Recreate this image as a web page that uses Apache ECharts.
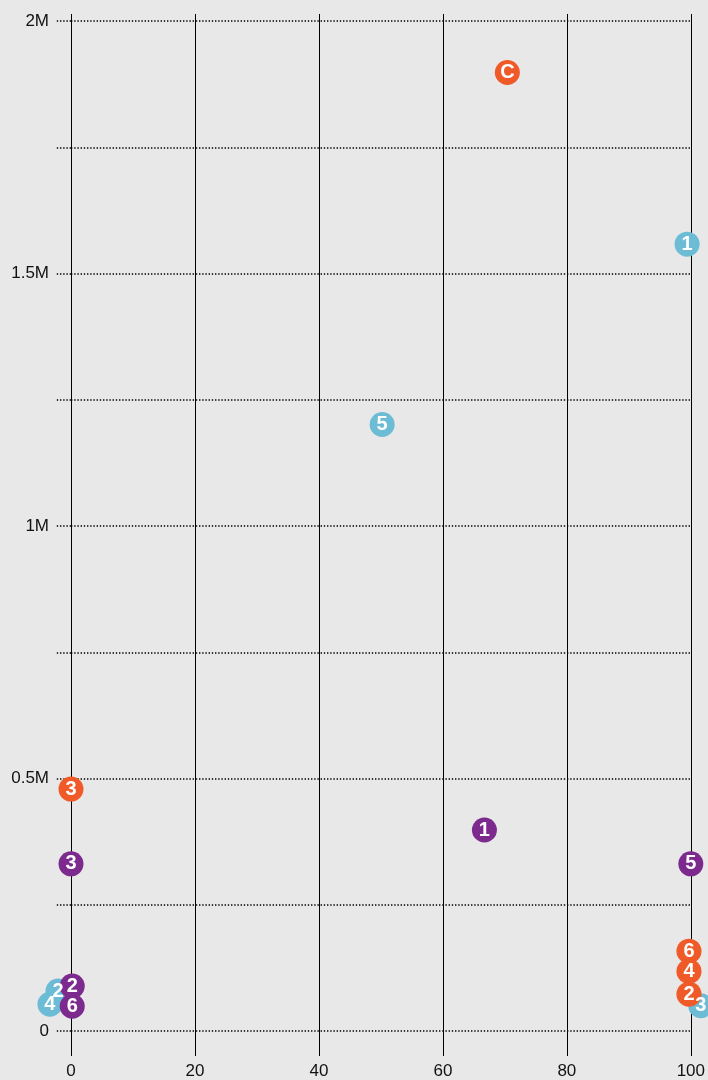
<!DOCTYPE html>
<html>
<head>
<meta charset="utf-8">
<script src="https://cdn.jsdelivr.net/npm/echarts@6/dist/echarts.min.js"></script>
<style>
html,body{margin:0;padding:0;background:#e8e8e8;}
#chart{width:708px;height:1080px;}
</style>
</head>
<body>
<div id="chart"></div>
<script>
// Data
var xTicks = [0, 20, 40, 60, 80, 100];
var yTickLabels = ['0', '0.5M', '1M', '1.5M', '2M'];

var blueX = [99.4, 50.2, 101.6, -3.4, -2.1];
var blueY = [1558000, 1201000, 50000, 53000, 79000];
var blueLabels = ['1', '5', '3', '4', '2'];

var orangeX = [70.4, 0, 99.7, 99.7, 99.7];
var orangeY = [1898000, 479000, 158000, 118000, 73000];
var orangeLabels = ['C', '3', '6', '4', '2'];

var purpleX = [66.7, 0, 100, 0.2, 0.2];
var purpleY = [398000, 331000, 331000, 89000, 49000];
var purpleLabels = ['1', '3', '5', '2', '6'];

function pts(xs, ys, ls) {
  return xs.map(function (x, i) { return { value: [x, ys[i]], lab: ls[i] }; });
}

var FONT = '"Liberation Sans", Arial, Helvetica, sans-serif';
var DOT = { color: '#000', width: 1.6, type: [1.4, 1.8] };

function scatter(name, color, data) {
  return {
    name: name,
    type: 'scatter',
    clip: false,
    symbol: 'circle',
    symbolSize: 25,
    itemStyle: { color: color, opacity: 1 },
    label: {
      show: true,
      position: 'inside',
      formatter: function (p) { return p.data.lab; },
      color: '#ffffff',
      fontFamily: FONT,
      fontWeight: 'bold',
      fontSize: 20
    },
    emphasis: { disabled: true },
    data: data
  };
}

var chart = echarts.init(document.getElementById('chart'));
chart.setOption({
  backgroundColor: '#e8e8e8',
  animation: false,
  grid: { left: 71, right: 16, top: 21, bottom: 45, containLabel: false },
  xAxis: [{
    type: 'value',
    min: 0, max: 100, interval: 20,
    position: 'bottom',
    axisLine: { show: false },
    axisTick: { show: true, length: 25, lineStyle: { color: '#000', width: 1 } },
    splitLine: { show: true, lineStyle: { color: '#000', width: 1, type: 'solid' } },
    axisLabel: { show: true, margin: 32, color: '#111', fontSize: 17, fontFamily: FONT,
      formatter: function (v) { return xTicks.indexOf(v) >= 0 ? String(v) : ''; } }
  }, {
    type: 'value',
    min: 0, max: 100, interval: 20,
    position: 'top',
    axisLine: { show: false },
    axisTick: { show: true, length: 7, lineStyle: { color: '#000', width: 1 } },
    splitLine: { show: false },
    axisLabel: { show: false }
  }],
  yAxis: {
    type: 'value',
    min: 0, max: 2000000, interval: 250000,
    axisLine: { show: false },
    axisTick: { show: true, length: 16, lineStyle: DOT },
    splitLine: { show: true, lineStyle: DOT },
    axisLabel: {
      margin: 22, color: '#111', fontSize: 17, fontFamily: FONT,
      formatter: function (v) {
        var k = Math.round(v / 500000);
        if (Math.abs(v - k * 500000) > 1) return '';
        return yTickLabels[k] || '';
      }
    }
  },
  series: [
    scatter('blue', '#6cbcd6', pts(blueX, blueY, blueLabels)),
    scatter('orange', '#f05a28', pts(orangeX, orangeY, orangeLabels)),
    scatter('purple', '#7d2a8e', pts(purpleX, purpleY, purpleLabels))
  ]
});
</script>
</body>
</html>
